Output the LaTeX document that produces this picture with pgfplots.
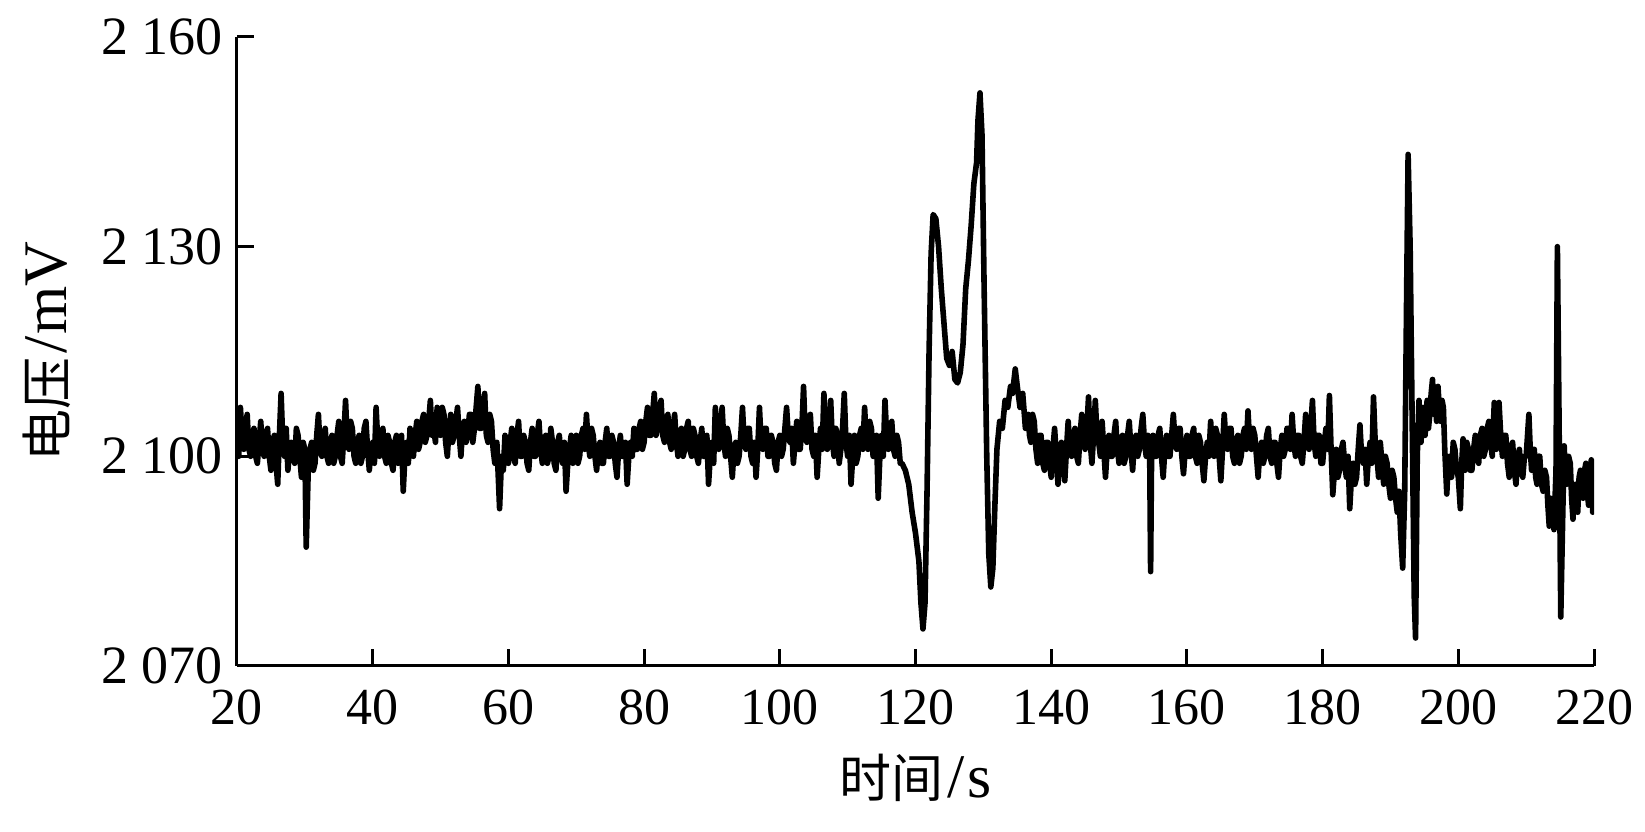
\documentclass[border=0pt]{standalone}
\usepackage{fontspec}
\setmainfont{Liberation Serif}
\newfontfamily\cjk{Noto Sans CJK SC}
\usepackage{pgfplots}
\pgfplotsset{compat=1.18}
\begin{document}
\begin{tikzpicture}
\begin{axis}[
 scale only axis, width=339.25pt, height=157.25pt,
 xmin=20, xmax=220, ymin=2070, ymax=2160,
 axis x line=bottom, axis y line=left,
 axis line style={-, line width=0.75pt},
 xtick={20,40,...,220},
 ytick={2070,2100,2130,2160},
 yticklabels={2\ 070,2\ 100,2\ 130,2\ 160},
 tick align=inside, major tick length=4.25pt,
 every tick/.style={black, line width=0.75pt},
 tick label style={font=\fontsize{13}{15}\selectfont},
 yticklabel style={font=\fontsize{13.5}{15}\selectfont},
 /pgf/number format/assume math mode=true,
 xticklabel style={yshift=-2.5pt},
 xlabel={{\cjk\fontsize{13}{15}\selectfont 时间}\kern1pt/\kern0.5pt s},
 ylabel={{\cjk\fontsize{13}{15}\selectfont 电压}\kern1pt/\kern0.5pt mV},
 label style={font=\fontsize{15.5}{17}\selectfont},
 xlabel style={at={(axis description cs:0.5,-0.178)}, anchor=center},
 ylabel style={at={(axis description cs:-0.14,0.5)}, anchor=center},
]
\addplot[black, line width=1.4pt, line join=round] coordinates {
(20,2104)(20.25,2100)(20.5,2107)(20.75,2103)(21,2101)(21.25,2104)(21.5,2106)(21.75,2101)(22,2100)(22.25,2103)
(22.5,2104)(22.75,2100)(23,2099)(23.25,2102)(23.5,2105)(23.75,2101)(24,2100)(24.25,2103)(24.5,2104)(24.75,2100)
(25,2098)(25.25,2102)(25.5,2103)(25.75,2099)(26,2096)(26.25,2103)(26.5,2109)(26.75,2102)(27,2100)(27.25,2104)
(27.5,2098)(27.75,2101)(28,2102)(28.25,2100)(28.5,2099)(28.75,2104)(29,2103)(29.25,2100)(29.5,2097)(29.75,2102)
(30,2101)(30.2,2087)(30.5,2098)(30.75,2101)(31,2102)(31.25,2098)(31.5,2099)(31.75,2103)(32,2106)(32.25,2101)
(32.5,2100)(32.75,2103)(33,2104)(33.25,2100)(33.5,2099)(33.75,2102)(34,2103)(34.25,2099)(34.5,2100)(34.75,2103)
(35,2105)(35.25,2100)(35.5,2099)(35.75,2103)(36,2108)(36.25,2102)(36.5,2101)(36.75,2105)(37,2104)(37.25,2100)
(37.5,2099)(37.75,2102)(38,2103)(38.25,2099)(38.5,2100)(38.75,2104)(39,2105)(39.25,2101)(39.5,2098)(39.75,2101)
(40,2102)(40.25,2099)(40.5,2107)(40.75,2102)(41,2100)(41.25,2103)(41.5,2104)(41.75,2100)(42,2099)(42.25,2103)
(42.5,2102)(42.75,2099)(43,2098)(43.25,2102)(43.5,2103)(43.75,2099)(44,2100)(44.25,2103)(44.5,2095)(44.75,2100)
(45,2102)(45.25,2099)(45.5,2104)(45.75,2101)(46,2100)(46.25,2103)(46.5,2105)(46.75,2101)(47,2102)(47.25,2105)
(47.5,2106)(47.75,2102)
(48,2103)(48.25,2105)(48.5,2108)(48.75,2103)(49,2104)(49.25,2102)(49.5,2107)(49.75,2104)(50,2103)(50.25,2107)
(50.5,2106)(50.75,2102)(51,2100)(51.25,2104)(51.5,2106)(51.75,2102)(52,2103)(52.25,2105)(52.5,2107)(52.75,2103)
(53,2100)(53.25,2104)(53.5,2105)(53.75,2102)(54,2103)(54.25,2106)(54.5,2106)(54.75,2102)(55,2104)(55.25,2107)
(55.5,2110)(55.75,2104)(56,2104)(56.25,2107)(56.5,2109)(56.75,2103)(57,2102)(57.25,2106)(57.5,2105)(57.75,2101)
(58,2099)(58.3,2102)(58.7,2092.5)(59,2100)(59.25,2098)(59.5,2103)(59.75,2100)(60,2099)(60.25,2102)
(60.5,2104)(60.75,2100)(61,2099)(61.25,2103)(61.5,2105)(61.75,2100)(62,2100)(62.25,2103)(62.5,2102)(62.75,2099)
(63,2098)(63.25,2102)(63.5,2104)(63.75,2100)(64,2100)(64.25,2103)(64.5,2105)(64.75,2101)(65,2099)(65.25,2102)
(65.5,2103)(65.75,2099)(66,2100)(66.25,2104)(66.5,2102)(66.75,2099)(67,2098)(67.25,2102)(67.5,2103)(67.75,2100)
(68,2099)(68.25,2102)(68.5,2095)(68.75,2099)(69,2101)(69.25,2103)(69.5,2099)(69.75,2101)(70,2103)(70.25,2099)
(70.5,2100)(70.75,2103)(71,2104)(71.25,2101)(71.5,2106)(71.75,2102)(72,2100)(72.25,2104)(72.5,2103)(72.75,2100)
(73,2098)(73.25,2101)(73.5,2102)(73.75,2099)(74,2099)(74.25,2102)(74.5,2104)(74.75,2100)(75,2100)(75.25,2103)
(75.5,2102)(75.75,2099)(76,2097)(76.25,2101)(76.5,2103)(76.75,2100)(77,2100)(77.25,2102)(77.5,2096)(77.75,2100)
(78,2102)(78.25,2100)(78.5,2104)(78.75,2101)(79,2101)(79.25,2104)(79.5,2105)(79.75,2101)(80,2102)(80.25,2105)
(80.5,2107)(80.75,2103)(81,2103)(81.25,2106)(81.5,2109)(81.75,2103)(82,2104)(82.25,2107)(82.5,2108)(82.75,2103)
(83,2102)(83.25,2105)(83.5,2106)(83.75,2102)(84,2101)(84.25,2104)(84.5,2106)(84.75,2102)(85,2100)(85.25,2103)
(85.5,2104)(85.75,2100)(86,2101)(86.25,2104)
(86.5,2105)(86.75,2101)(87,2100)(87.25,2104)(87.5,2103)(87.75,2100)(88,2099)(88.25,2102)(88.5,2104)(88.75,2100)
(89,2100)(89.25,2103)(89.5,2096)(89.75,2100)(90,2102)(90.25,2099)(90.5,2107)(90.75,2103)(91,2101)(91.25,2104)
(91.5,2107)(91.75,2102)(92,2100)(92.25,2104)(92.5,2103)(92.75,2100)(93,2097)(93.25,2101)(93.5,2102)(93.75,2099)
(94,2100)(94.25,2103)(94.5,2107)(94.75,2102)(95,2101)(95.25,2104)(95.5,2104)(95.75,2100)(96,2099)(96.25,2102)
(96.5,2097)(96.75,2101)(97,2107)(97.25,2102)(97.5,2101)(97.75,2104)(98,2104)(98.25,2100)(98.5,2100)(98.75,2103)
(99,2102)(99.25,2099)(99.5,2098)(99.75,2102)(100,2103)(100.25,2100)(100.5,2101)(100.75,2104)(101,2107)(101.25,2103)
(101.5,2102)(101.75,2104)(102,2099)(102.25,2102)(102.5,2105)(102.75,2101)(103,2101)(103.25,2104)(103.5,2110)(103.75,2103)
(104,2102)(104.25,2105)(104.5,2106)(104.75,2101)(105,2100)(105.25,2103)(105.5,2097)(105.75,2101)(106,2104)(106.25,2101)
(106.5,2109)(106.75,2103)(107,2101)(107.25,2104)(107.5,2108)(107.75,2102)(108,2100)(108.25,2104)(108.5,2103)(108.75,2099)
(109,2101)(109.25,2104)(109.5,2109)(109.75,2102)(110,2100)(110.25,2103)(110.5,2096)(110.75,2100)(111,2103)(111.25,2099)
(111.5,2100)(111.75,2103)(112,2104)(112.25,2101)(112.5,2107)(112.75,2102)(113,2101)(113.25,2105)(113.5,2104)(113.75,2100)
(114,2100)(114.25,2103)(114.5,2094)(114.75,2100)(115,2103)(115.25,2100)(115.5,2108)(115.75,2103)(116,2101)(116.25,2104)
(116.5,2105)(116.75,2101)(117,2100)(117.25,2103)(117.5,2102)(117.75,2099)
(118,2099)(118.5,2098)(119,2096)(119.5,2092)(120,2089)(120.5,2085)(120.8,2079)
(121.1,2075.3)(121.4,2079)(121.7,2095)(122,2115)(122.3,2129)(122.6,2134.6)(123,2134)(123.4,2130)(123.8,2124)(124.2,2119)
(124.6,2114)(125,2113)(125.4,2115)(125.8,2111)(126.2,2110.5)(126.6,2112)(127,2116)(127.4,2124)(127.8,2128)(128.2,2133)
(128.6,2139)(129,2142)(129.2,2148)(129.5,2152)(129.8,2146)(130.1,2125)(130.5,2100)(130.8,2086)(131.1,2081.3)(131.4,2084)
(131.7,2093)(132,2101)(132.4,2105)(132.8,2104)(133.2,2108)(133.6,2107)(134,2110)(134.3,2109)(134.7,2112.5)(135,2110)
(135.4,2107)(135.8,2109)(136.2,2104)(136.6,2106)(136.8,2103)(137,2102)(137.25,2106)(137.5,2105)(137.75,2101)(138,2099)
(138.25,2103)(138.5,2103)(138.75,2099)(139,2098)(139.25,2102)(139.5,2102)(139.75,2099)(140,2097)(140.25,2101)
(140.5,2104)(140.75,2100)(141,2096)(141.25,2100)(141.5,2102)(141.75,2099)(142,2096.5)(142.25,2101)(142.5,2105)(142.75,2101)
(143,2100)(143.25,2103)(143.5,2104)(143.75,2100)(144,2099)(144.25,2103)(144.5,2106)(144.75,2102)(145,2101)(145.25,2104)
(145.5,2108.5)(145.75,2102)(146,2099)(146.25,2103)(146.5,2108)(146.75,2103)(147,2102)(147.25,2100)(147.5,2105)(147.75,2101)
(148,2097)(148.25,2101)(148.5,2103)(148.75,2100)(149,2100)(149.25,2103)(149.5,2105)(149.75,2101)(150,2099)(150.25,2102)
(150.5,2103)(150.75,2099)(151,2100)(151.25,2103)(151.5,2105)(151.75,2101)(152,2098)(152.25,2102)(152.5,2103)(152.75,2100)
(153,2101)(153.25,2104)(153.5,2106)(153.75,2102)(154,2100)(154.25,2103)(154.5,2102)(154.65,2083.5)(154.8,2101)(155,2103)
(155.25,2100)(155.5,2100)(155.75,2103)(156,2104)(156.25,2100)(156.5,2097)(156.75,2101)(157,2103)(157.25,2100)(157.5,2100)
(157.75,2103)(158,2106)(158.25,2102)(158.5,2101)(158.75,2104)(159,2104)(159.25,2100)(159.5,2097.5)(159.75,2101)(160,2103)
(160.25,2100)(160.5,2100)(160.75,2103)(161,2104)(161.25,2100)(161.5,2099)(161.75,2103)(162,2102)(162.25,2099)(162.5,2096.5)
(162.75,2100)(163,2102)(163.25,2100)(163.5,2105)(163.75,2101)(164,2100)(164.25,2104)(164.5,2103)(164.75,2100)(165,2096.5)
(165.25,2101)(165.5,2106)(165.75,2102)(166,2101)(166.25,2104)(166.5,2104)(166.75,2100)(167,2099)(167.25,2102)(167.5,2103)
(167.75,2099)(168,2100)(168.25,2103)(168.5,2104)(168.75,2101)(169,2106.5)(169.25,2102)(169.5,2101)(169.75,2104)(170,2103)
(170.25,2100)(170.5,2097)(170.75,2101)(171,2102)(171.25,2099)(171.5,2100)(171.75,2103)(172,2104)(172.25,2100)(172.5,2099)
(172.75,2102)(173,2102)(173.25,2099)(173.5,2097)(173.75,2101)(174,2103)(174.25,2100)(174.5,2101)(174.75,2104)(175,2104)
(175.25,2101)(175.5,2106)(175.75,2102)(176,2100)(176.25,2103)(176.5,2103)(176.75,2100)(177,2099)(177.25,2102)(177.5,2106)
(177.75,2102)(178,2101)(178.25,2104)(178.5,2108)(178.75,2102)(179,2100)(179.25,2103)(179.5,2103)(179.75,2099)(180,2099)
(180.25,2102)(180.5,2104)(180.75,2101)(181,2108.7)(181.25,2101)(181.5,2094.5)(181.75,2098)(182,2101)(182.25,2097)(182.5,2098)
(182.75,2101)(183,2102)(183.25,2099)(183.5,2097)(183.75,2100)(184,2092.5)(184.25,2097)(184.5,2099)(184.75,2096)(185,2097)
(185.25,2101)(185.5,2104.5)(185.75,2100)(186,2099)(186.25,2101)(186.5,2096)(186.75,2100)(187,2102)(187.25,2099)(187.5,2108.5)
(187.75,2102)(188,2100)(188.25,2097)(188.5,2102)(188.75,2099)(189,2096)(189.25,2100)(189.5,2099)(189.75,2096)(190,2094)
(190.25,2098)(190.5,2097)(190.75,2094)(191,2092)(191.25,2095)(191.5,2089)(191.8,2084)(192.1,2095)(192.4,2125)(192.6,2143.2)
(192.9,2130)(193.2,2105)(193.5,2080)(193.7,2074)(193.95,2100)(194.2,2108)(194.5,2102)(194.8,2107)(195.1,2103)(195.4,2108)
(195.6,2104)(195.8,2106)(196,2109)(196.2,2111)(196.4,2106)(196.6,2108)(196.8,2105)(197,2110)(197.2,2107)(197.4,2105)
(197.6,2108)(197.8,2107)(198,2101)(198.3,2094.6)(198.5,2099)(198.7,2100)(198.85,2097)(199,2097)(199.25,2102)(199.5,2101)
(199.75,2098)(200,2097)(200.3,2092.5)(200.5,2099)(200.7,2102.5)(200.85,2099)(201,2098)(201.25,2102)(201.5,2101)(201.75,2098)
(202,2098)(202.25,2101)(202.5,2103)(202.75,2100)(203,2099)(203.25,2103)(203.5,2104)(203.75,2100)(204,2101)(204.25,2104)
(204.5,2105)(204.75,2102)(205,2100)(205.15,2104)(205.3,2107.7)(205.45,2103)(205.6,2101)(205.8,2104)(206,2107.7)(206.25,2103)
(206.5,2100)(206.75,2103)(207,2103)(207.25,2099)(207.5,2097)(207.75,2101)(208,2102)(208.25,2098)(208.5,2096)(208.75,2100)
(209,2101)(209.25,2098)(209.5,2097)(209.75,2100)(210,2100)(210.2,2103)(210.4,2106)(210.6,2101)(210.8,2098)(211,2101)
(211.2,2101)(211.4,2097)(211.6,2096)(211.8,2100)(212,2100)(212.25,2096)(212.5,2095)(212.75,2098)(213,2097)(213.2,2093)
(213.4,2090)(213.6,2094)(213.8,2093)(214,2091)(214.1,2089.5)(214.4,2098)(214.6,2130)(214.85,2105)(215.1,2077)(215.4,2092)
(215.6,2101.5)(215.8,2097)(216,2096)(216.25,2100)(216.5,2099)(216.7,2094)(216.9,2091)(217.1,2095)(217.3,2096)(217.45,2093)
(217.6,2092)(217.8,2097)(218,2098)(218.2,2095)(218.4,2094)(218.6,2098)(218.8,2099)(219,2095)(219.2,2093)(219.4,2097)
(219.6,2099.5)(219.8,2092)(220,2099.5)
};
\coordinate (ll) at (rel axis cs:0,0);
\coordinate (ur) at (rel axis cs:1,1);
\end{axis}
\pgfresetboundingbox
\path ([xshift=-59.25pt,yshift=-41.5pt]ll) rectangle ([xshift=12.75pt,yshift=9.25pt]ur);
\end{tikzpicture}
\end{document}
